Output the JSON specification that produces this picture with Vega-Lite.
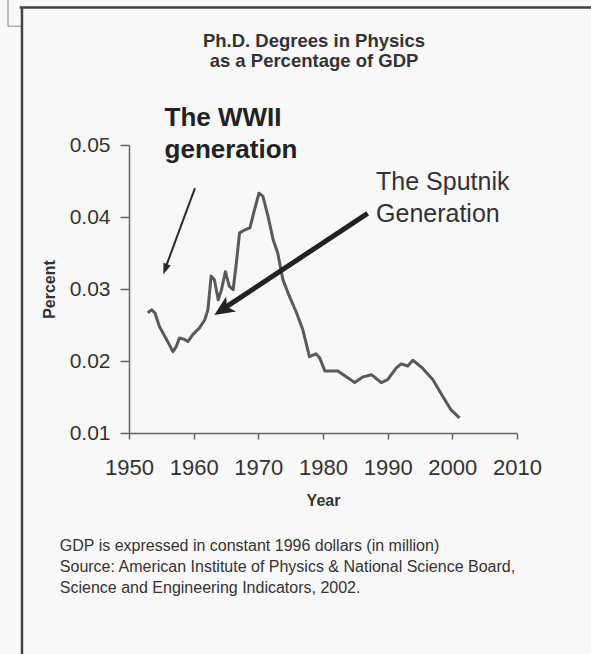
{
  "$schema": "https://vega.github.io/schema/vega-lite/v6.json",
  "autosize": {"type": "none"},
  "width": 388,
  "height": 288,
  "padding": {"left": 129, "top": 145, "right": 74, "bottom": 221},
  "background": "#f8f8f8",
  "config": {"font": "Liberation Sans", "view": {"stroke": null}},
  "title": {
    "text": ["Ph.D. Degrees in Physics", "as a Percentage of GDP"],
    "fontSize": 18.5,
    "fontWeight": "bold",
    "color": "#333333",
    "lineHeight": 20,
    "anchor": "middle",
    "dx": -9,
    "offset": -71
  },
  "encoding": {
    "x": {
      "field": "year",
      "type": "quantitative",
      "scale": {"domain": [1950, 2010], "nice": false, "zero": false},
      "axis": {
        "title": "Year",
        "values": [1950, 1960, 1970, 1980, 1990, 2000, 2010],
        "format": "d",
        "grid": false,
        "labelFlush": false,
        "labelFontSize": 22,
        "labelPadding": 18,
        "labelColor": "#333333",
        "tickSize": 6,
        "tickColor": "#666666",
        "tickWidth": 1.5,
        "domainColor": "#666666",
        "domainWidth": 1.5,
        "titleFontSize": 16,
        "titleFontWeight": "bold",
        "titleColor": "#333333",
        "titlePadding": 14
      }
    },
    "y": {
      "field": "pct",
      "type": "quantitative",
      "scale": {"domain": [0.01, 0.05], "nice": false, "zero": false},
      "axis": {
        "title": "Percent",
        "values": [0.01, 0.02, 0.03, 0.04, 0.05],
        "format": ".2f",
        "grid": false,
        "labelFlush": false,
        "labelFontSize": 21,
        "labelPadding": 10,
        "labelColor": "#333333",
        "tickSize": 9,
        "tickColor": "#666666",
        "tickWidth": 1.5,
        "domainColor": "#666666",
        "domainWidth": 1.5,
        "titleFontSize": 16,
        "titleFontWeight": "bold",
        "titleColor": "#333333",
        "titlePadding": 12
      }
    }
  },
  "layer": [
    {
      "data": {"values": [
        {"year": 1933.45, "pct": 0.0691, "year2": 1933.45, "pct2": -0.0207},
        {"year": 1933.1, "pct": 0.0691, "year2": 2021.5, "pct2": 0.0691}
      ]},
      "mark": {"type": "rule", "color": "#444444", "strokeWidth": 2.5},
      "encoding": {"x2": {"field": "year2"}, "y2": {"field": "pct2"}}
    },
    {
      "data": {"values": [
        {"year": 1931.29, "pct": 0.0702, "year2": 1931.29, "pct2": 0.0665},
        {"year": 1931.29, "pct": 0.0665, "year2": 1933.3, "pct2": 0.0665}
      ]},
      "mark": {"type": "rule", "color": "#888888", "strokeWidth": 1},
      "encoding": {"x2": {"field": "year2"}, "y2": {"field": "pct2"}}
    },
    {
      "data": {"values": [
        {"year": 1952.9, "pct": 0.0267},
        {"year": 1953.5, "pct": 0.0271},
        {"year": 1954.0, "pct": 0.0267},
        {"year": 1954.7, "pct": 0.0248},
        {"year": 1955.8, "pct": 0.0230},
        {"year": 1956.8, "pct": 0.0213},
        {"year": 1957.3, "pct": 0.0220},
        {"year": 1957.8, "pct": 0.0232},
        {"year": 1958.6, "pct": 0.0230},
        {"year": 1959.1, "pct": 0.0227},
        {"year": 1959.9, "pct": 0.0237},
        {"year": 1960.9, "pct": 0.0246},
        {"year": 1961.7, "pct": 0.0257},
        {"year": 1962.2, "pct": 0.0271},
        {"year": 1962.7, "pct": 0.0318},
        {"year": 1963.2, "pct": 0.0313},
        {"year": 1963.8, "pct": 0.0285},
        {"year": 1964.3, "pct": 0.0299},
        {"year": 1964.9, "pct": 0.0324},
        {"year": 1965.5, "pct": 0.0304},
        {"year": 1966.1, "pct": 0.0299},
        {"year": 1966.6, "pct": 0.0336},
        {"year": 1967.1, "pct": 0.0378},
        {"year": 1967.9, "pct": 0.0382},
        {"year": 1968.7, "pct": 0.0385},
        {"year": 1969.4, "pct": 0.0410},
        {"year": 1970.1, "pct": 0.0433},
        {"year": 1970.7, "pct": 0.0429},
        {"year": 1971.5, "pct": 0.0401},
        {"year": 1972.3, "pct": 0.0368},
        {"year": 1973.0, "pct": 0.0350},
        {"year": 1973.8, "pct": 0.0313},
        {"year": 1974.8, "pct": 0.0290},
        {"year": 1975.9, "pct": 0.0267},
        {"year": 1976.9, "pct": 0.0243},
        {"year": 1977.9, "pct": 0.0206},
        {"year": 1978.9, "pct": 0.0210},
        {"year": 1979.5, "pct": 0.0204},
        {"year": 1980.3, "pct": 0.0186},
        {"year": 1982.3, "pct": 0.0186},
        {"year": 1983.6, "pct": 0.0178},
        {"year": 1984.9, "pct": 0.0170},
        {"year": 1986.2, "pct": 0.0178},
        {"year": 1987.5, "pct": 0.0181},
        {"year": 1988.2, "pct": 0.0176},
        {"year": 1989.0, "pct": 0.0170},
        {"year": 1990.0, "pct": 0.0174},
        {"year": 1991.3, "pct": 0.0190},
        {"year": 1992.1, "pct": 0.0196},
        {"year": 1993.1, "pct": 0.0193},
        {"year": 1993.9, "pct": 0.0201},
        {"year": 1995.4, "pct": 0.0190},
        {"year": 1997.0, "pct": 0.0174},
        {"year": 1998.5, "pct": 0.0151},
        {"year": 1999.8, "pct": 0.0132},
        {"year": 2001.1, "pct": 0.0121}
      ]},
      "mark": {"type": "line", "color": "#5a5a5a", "strokeWidth": 3, "strokeJoin": "round"}
    },
    {
      "data": {"values": [{"year": 1960.2, "pct": 0.0440, "year2": 1955.5, "pct2": 0.0326}]},
      "mark": {"type": "rule", "color": "#2a2a2a", "strokeWidth": 2},
      "encoding": {"x2": {"field": "year2"}, "y2": {"field": "pct2"}}
    },
    {
      "data": {"values": [{"year": 1955.3, "pct": 0.0320}]},
      "mark": {"type": "point", "shape": "M0,0L-0.55,1.6L0.55,1.6Z", "filled": true, "opacity": 1, "color": "#2a2a2a", "size": 196, "angle": 200}
    },
    {
      "data": {"values": [{"year": 1986.9, "pct": 0.0405, "year2": 1964.5, "pct2": 0.0272}]},
      "mark": {"type": "rule", "color": "#222222", "strokeWidth": 5},
      "encoding": {"x2": {"field": "year2"}, "y2": {"field": "pct2"}}
    },
    {
      "data": {"values": [{"year": 1963.2, "pct": 0.0264}]},
      "mark": {"type": "point", "shape": "M0,0L-0.9,2L0,1.5L0.9,2Z", "filled": true, "opacity": 1, "color": "#222222", "size": 400, "angle": 236.7}
    },
    {
      "data": {"values": [{"year": 1955.5, "pct": 0.0526, "label": "The WWII\ngeneration"}]},
      "mark": {"type": "text", "align": "left", "baseline": "alphabetic", "fontSize": 26, "fontWeight": "bold", "color": "#222222", "lineBreak": "\n", "lineHeight": 32},
      "encoding": {"text": {"field": "label"}}
    },
    {
      "data": {"values": [{"year": 1988.2, "pct": 0.0438, "label": "The Sputnik\nGeneration"}]},
      "mark": {"type": "text", "align": "left", "baseline": "alphabetic", "fontSize": 25, "color": "#333333", "lineBreak": "\n", "lineHeight": 32},
      "encoding": {"text": {"field": "label"}}
    },
    {
      "data": {"values": [{"year": 1939.3, "pct": -0.0064, "label": "GDP is expressed in constant 1996 dollars (in million)\nSource: American Institute of Physics & National Science Board,\nScience and Engineering Indicators, 2002."}]},
      "mark": {"type": "text", "align": "left", "baseline": "alphabetic", "fontSize": 16, "color": "#333333", "lineBreak": "\n", "lineHeight": 21},
      "encoding": {"text": {"field": "label"}}
    }
  ]
}
